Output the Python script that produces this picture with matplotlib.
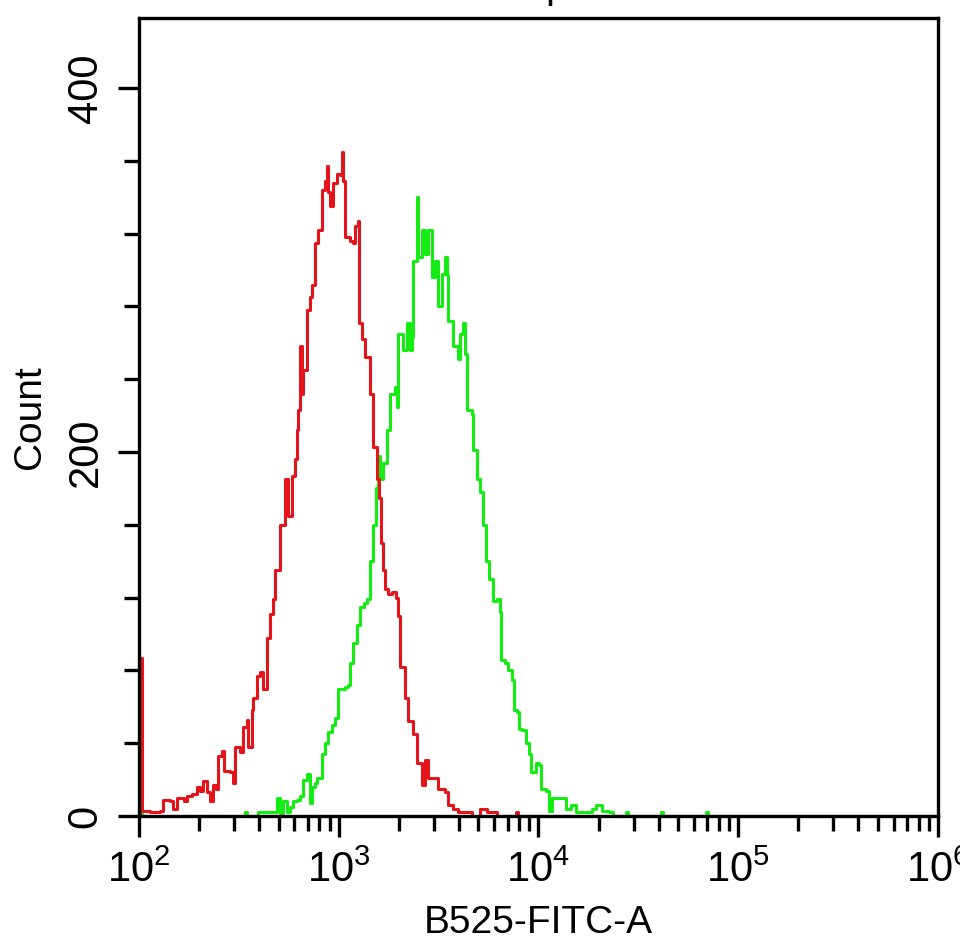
import numpy as np
import matplotlib
matplotlib.use("Agg")
import matplotlib.pyplot as plt
from matplotlib.ticker import FixedLocator, LogLocator, LogFormatterMathtext, NullFormatter

plt.rcParams["font.family"] = ["Liberation Sans", "DejaVu Sans"]
plt.rcParams["mathtext.fontset"] = "custom"
plt.rcParams["mathtext.rm"] = "Liberation Sans"
plt.rcParams["mathtext.it"] = "Liberation Sans"

# traced histogram vertices: (log10 of B525-FITC-A, count)
red_trace = [
    (2.0025, 0), (2.005, 87), (2.01, 87), (2.015, 3), (2.055, 2), (2.105, 3), (2.12, 9),
    (2.155, 8), (2.17, 4), (2.19, 10), (2.205, 10), (2.225, 8), (2.24, 11), (2.265, 12),
    (2.29, 16), (2.305, 14), (2.32, 19), (2.34, 13), (2.355, 8), (2.37, 17), (2.385, 15),
    (2.395, 33), (2.415, 36), (2.425, 25), (2.455, 24), (2.47, 18), (2.48, 38), (2.505, 35),
    (2.52, 49), (2.54, 53), (2.545, 38), (2.565, 58), (2.57, 65), (2.59, 77), (2.605, 79),
    (2.62, 70), (2.64, 98), (2.655, 111), (2.67, 119), (2.68, 135), (2.705, 160), (2.73, 185),
    (2.745, 165), (2.765, 187), (2.78, 196), (2.79, 212), (2.795, 223), (2.805, 258),
    (2.815, 232), (2.82, 245), (2.84, 278), (2.855, 285), (2.865, 292), (2.88, 315),
    (2.895, 322), (2.915, 344), (2.93, 349), (2.94, 357), (2.945, 343), (2.955, 335),
    (2.97, 348), (2.99, 353), (3.005, 352), (3.015, 365), (3.02, 349), (3.03, 318),
    (3.055, 316), (3.07, 315), (3.08, 324), (3.095, 327), (3.10, 271), (3.115, 262),
    (3.13, 252), (3.155, 232), (3.17, 203), (3.19, 185), (3.20, 175), (3.21, 150),
    (3.22, 135), (3.23, 125), (3.245, 122), (3.265, 123), (3.285, 120), (3.295, 110),
    (3.305, 82), (3.33, 65), (3.345, 52), (3.37, 45), (3.39, 29), (3.415, 17), (3.43, 31),
    (3.445, 21), (3.48, 21), (3.495, 15), (3.53, 13), (3.545, 6), (3.57, 4), (3.595, 2),
    (3.64, 2), (3.665, 0), (3.705, 4), (3.74, 2), (3.77, 2), (3.79, 0), (3.89, 2),
    (3.90, 0), (6.0, 0),
]

green_trace = [
    (2.0025, 0), (2.005, 2), (2.015, 0), (2.52, 0), (2.53, 2), (2.54, 0), (2.585, 0),
    (2.595, 2), (2.67, 2), (2.69, 10), (2.705, 1), (2.72, 8), (2.74, 2), (2.755, 5),
    (2.77, 8), (2.79, 9), (2.805, 11), (2.82, 20), (2.84, 23), (2.855, 7), (2.865, 16),
    (2.88, 18), (2.89, 21), (2.915, 34), (2.93, 40), (2.945, 46), (2.965, 50), (2.98, 54),
    (2.995, 70), (3.03, 71), (3.045, 72), (3.055, 84), (3.07, 95), (3.09, 105), (3.105, 115),
    (3.125, 117), (3.14, 119), (3.155, 140), (3.17, 160), (3.185, 180), (3.195, 198),
    (3.205, 185), (3.22, 194), (3.24, 212), (3.255, 232), (3.28, 236), (3.29, 225),
    (3.295, 265), (3.32, 256), (3.34, 271), (3.355, 256), (3.365, 263), (3.37, 305),
    (3.39, 340), (3.395, 307), (3.415, 322), (3.43, 309), (3.445, 322), (3.46, 322),
    (3.465, 296), (3.48, 305), (3.495, 280), (3.515, 298), (3.53, 307), (3.54, 297),
    (3.545, 272), (3.565, 272), (3.57, 258), (3.595, 251), (3.605, 265), (3.62, 271),
    (3.63, 254), (3.64, 223), (3.665, 221), (3.67, 201), (3.69, 185), (3.705, 178),
    (3.72, 160), (3.735, 140), (3.75, 130), (3.77, 118), (3.79, 119), (3.805, 112),
    (3.81, 86), (3.83, 84), (3.845, 80), (3.865, 75), (3.88, 58), (3.895, 57), (3.905, 48),
    (3.92, 47), (3.94, 40), (3.955, 34), (3.965, 24), (3.99, 29), (4.005, 28), (4.015, 15),
    (4.04, 14), (4.055, 3), (4.07, 10), (4.095, 10), (4.12, 10), (4.14, 4), (4.165, 6),
    (4.19, 2), (4.24, 2), (4.27, 4), (4.29, 6), (4.32, 3), (4.355, 2), (4.375, 0),
    (4.435, 0), (4.44, 2), (4.45, 0), (4.61, 0), (4.615, 2), (4.625, 0), (4.835, 0),
    (4.84, 2), (4.85, 0), (6.0, 0),
]

red_decade, red_count = zip(*red_trace)
green_decade, green_count = zip(*green_trace)
red_x = 10 ** np.array(red_decade)
green_x = 10 ** np.array(green_decade)

fig = plt.figure(figsize=(9.6, 9.46), dpi=100)
ax = fig.add_axes([0.1448, 0.1374, 0.8322, 0.8436])

ax.plot(green_x, green_count, color="#14ec14", linewidth=2.2, drawstyle="steps-post")
ax.plot(red_x, red_count, color="#e5141b", linewidth=2.2, drawstyle="steps-post")

ax.set_xscale("log")
ax.set_xlim(1e2, 1e6)
ax.set_ylim(0, 438.5)

ax.xaxis.set_major_locator(LogLocator(base=10))
ax.xaxis.set_major_formatter(LogFormatterMathtext())
ax.xaxis.set_minor_locator(LogLocator(base=10, subs=np.arange(2, 10)))
ax.xaxis.set_minor_formatter(NullFormatter())

ax.yaxis.set_major_locator(FixedLocator([0, 200, 400]))
ax.yaxis.set_minor_locator(FixedLocator([40, 80, 120, 160, 240, 280, 320, 360]))
ax.set_yticklabels(["0", "200", "400"], rotation=90, va="center")

for s in ax.spines.values():
    s.set_linewidth(2.4)

ax.tick_params(which="major", direction="out", length=15, width=2.4,
               labelsize=30, top=False, right=False)
ax.tick_params(which="minor", direction="out", length=11, width=2.4,
               top=False, right=False)
ax.tick_params(axis="x", which="major", pad=10)
ax.tick_params(axis="y", which="major", pad=9)

ax.set_xlabel("B525-FITC-A", fontsize=28)
ax.xaxis.set_label_coords(0.5, -0.112)
ax.set_ylabel("Count", fontsize=28)
ax.yaxis.set_label_coords(-0.114, 0.5)

# only the descender of the title glyph is visible at the top edge
fig.text(545 / 960, 1 + 2 / 946, "p", fontsize=29, ha="left", va="baseline")

fig.savefig("out.png", dpi=100)
